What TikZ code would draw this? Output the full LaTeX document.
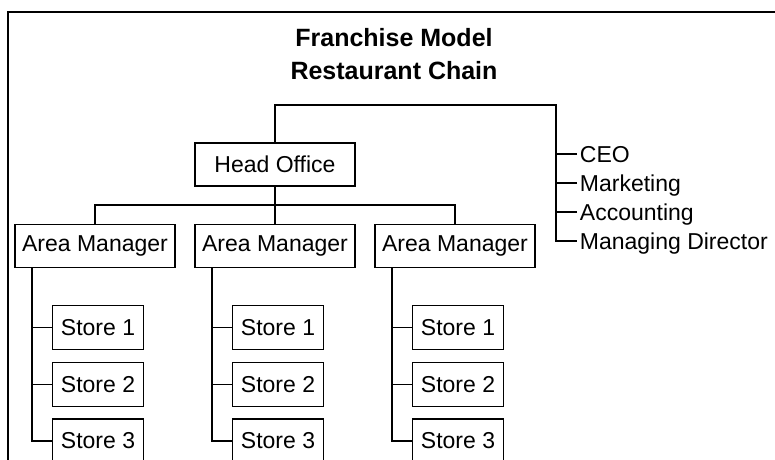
\documentclass[tikz,border=0pt]{standalone}
\usepackage{fontspec}
\setmainfont{Liberation Sans}
\usetikzlibrary{positioning,calc}
\definecolor{cInk}{HTML}{000000}
\tikzset{
  every picture/.style={line width=1.8pt},
  obox/.style={draw=cInk, fill=white, minimum width=160pt, minimum height=43pt,
               inner sep=0pt, font=\fontsize{23}{27}\selectfont, text=cInk},
  sbox/.style={obox, minimum width=91pt, minimum height=44pt},
  ttl/.style={font=\fontsize{25}{29}\selectfont\bfseries, text=cInk, anchor=base, inner sep=0pt},
  item/.style={font=\fontsize{23}{27}\selectfont, text=cInk, anchor=west, inner sep=2pt,
               text height=16.5pt, text depth=0pt},
  link/.style={draw=cInk, line width=1.8pt},
}

\begin{document}
\begin{tikzpicture}[x=1pt,y=-1pt]
\clip (0,0) rectangle (775,459);

\def\rHO{164.5}
\def\rAM{246}

% ---------------------------------------------------------------- frame and title
\draw[draw=cInk, line width=2.2pt] (8,470) -- (8,12) -- (790,12);
\node[ttl] (t1) at (394,46) {Franchise Model};
\node[ttl] (t2) at (394,79) {Restaurant Chain};

% ---------------------------------------------------------------- head office and staff
\node[obox] (ho) at (275,\rHO) {Head Office};
\coordinate (topr) at (556,105);
\foreach \n/\t/\y in {ceo/CEO/154,mkt/Marketing/183,acc/Accounting/212,md/Managing Director/241}
  \node[item] (\n) at (577,\y) {\t};

\draw[link] (ho.north) |- (topr) |- (md.west);
\foreach \n in {ceo,mkt,acc}
  \draw[link] (\n.west) -- (\n.west -| topr);

% ---------------------------------------------------------------- area managers and stores
\foreach \i/\x in {1/95,2/275,3/455}{
  \node[obox] (am\i) at (\x,\rAM) {Area Manager};
  \node[sbox] (s\i1) at (\x+3,327.5) {Store 1};
  \node[sbox] (s\i2) at (\x+3,384.5) {Store 2};
  \node[sbox] (s\i3) at (\x+3,441) {Store 3};

  \draw[link] (ho.south) |- ($(ho.south)!.5!(am\i.north)$) -| (am\i.north);
  \coordinate (sp\i) at ($(am\i.south west)+(18,0)$);
  \draw[link] (sp\i) |- (s\i3.west);
  \draw[link] (s\i1.west) -- (s\i1.west -| sp\i);
  \draw[link] (s\i2.west) -- (s\i2.west -| sp\i);
}

\end{tikzpicture}
\end{document}
